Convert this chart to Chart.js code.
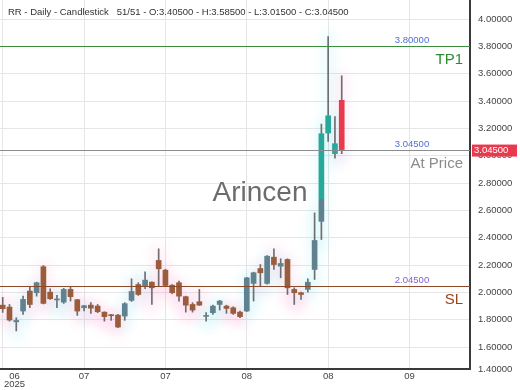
<!DOCTYPE html>
<html><head><meta charset="utf-8">
<script src="https://cdn.jsdelivr.net/npm/chart.js@4.4.1/dist/chart.umd.min.js"></script>
<style>html,body{margin:0;padding:0;background:#fff;}#wrap{width:520px;height:390px;position:relative;}</style>
</head><body><div id="wrap"><canvas id="c" width="520" height="390"></canvas></div>
<script>
// ---------- data ----------
const symbol = 'RR';
const opens = [1.907,1.893,1.785,1.864,2.010,1.998,2.188,2.002,1.945,1.929,
  2.022,1.947,1.888,1.907,1.900,1.856,1.835,1.834,1.827,1.942,
  2.058,2.042,2.075,2.234,2.163,2.053,2.071,1.969,1.912,1.932,
  1.825,1.852,1.912,1.900,1.888,1.856,1.864,2.066,2.175,2.066,
  2.258,2.192,2.241,2.022,1.998,2.022,2.168,2.520,3.166,3.015,3.405];
const highs = [1.964,1.912,1.815,1.973,2.039,2.075,2.197,2.027,1.978,2.030,
  2.039,1.949,1.905,1.925,1.912,1.858,1.839,1.839,1.925,2.100,
  2.071,2.151,2.077,2.319,2.170,2.058,2.083,1.973,1.925,2.022,
  1.852,1.907,1.942,1.907,1.895,1.864,2.110,2.148,2.204,2.270,
  2.319,2.246,2.246,2.034,2.002,2.100,2.582,3.231,3.871,3.287,3.585];
const lows = [1.854,1.790,1.718,1.839,1.888,1.973,1.916,1.949,1.888,1.920,
  1.937,1.832,1.864,1.847,1.852,1.790,1.796,1.742,1.796,1.934,
  1.978,2.027,1.912,2.046,2.045,1.990,1.937,1.856,1.856,1.905,
  1.790,1.839,1.871,1.847,1.839,1.815,1.860,1.937,2.042,2.060,
  2.168,2.107,1.985,1.912,1.949,2.002,2.095,2.387,3.104,2.983,3.015];
const closes = [1.881,1.798,1.795,1.949,1.912,2.071,1.920,1.954,1.952,2.022,
  1.969,1.864,1.903,1.885,1.859,1.823,1.830,1.747,1.918,2.007,
  1.985,2.090,2.034,2.173,2.051,1.998,1.973,1.907,1.871,1.907,
  1.830,1.900,1.937,1.883,1.847,1.823,2.107,2.144,2.144,2.265,
  2.204,2.212,2.034,1.998,1.985,2.075,2.380,3.161,3.292,3.088,3.045];
const xTickIndex = [0,12,24,36,48,60];
const xTickLabels = ['06\n2025','07','07','08','08','09'];
const yTickValues = [1.4,1.6,1.8,2.0,2.2,2.4,2.6,2.8,3.0,3.2,3.4,3.6,3.8,4.0];
const levelValues = [3.8, 3.045, 2.045];
const levelNames = ['TP1','At Price','SL'];

// ---------- styles ----------
const Y_MIN = 1.44, Y_MAX = 4.139, X_MIN = -0.4, X_MAX = 68.92;
const SPLIT = 2.68;
const levelLine = ['#3d8b3d','#8c8c8c','#8b4a2a'];
const levelText = ['#2e8b2e','#8c8c8c','#a0401c'];
const levelValText = ['#4f6fd0','#4f6fd0','#7f62c8'];
const FONT = '"Liberation Sans", Arial, sans-serif';

const n = opens.length;
const idx = opens.map((_, i) => i);
const isUp = i => closes[i] >= opens[i];

function splitGradient(ctx, top, bottom) {
  const chart = ctx.chart;
  const area = chart.chartArea;
  if (!area) return top;
  const ys = chart.scales.y.getPixelForValue(SPLIT);
  const g = chart.ctx.createLinearGradient(0, area.top, 0, area.bottom);
  const t = Math.min(Math.max((ys - area.top) / (area.bottom - area.top), 0), 1);
  g.addColorStop(0, top); g.addColorStop(t, top);
  g.addColorStop(t, bottom); g.addColorStop(1, bottom);
  return g;
}

const haloPlugin = {
  id: 'halo',
  beforeDatasetsDraw(chart) {
    const {ctx, scales: {x, y}, chartArea: a} = chart;
    ctx.save();
    ctx.beginPath(); ctx.rect(a.left, a.top, a.right - a.left, a.bottom - a.top); ctx.clip();
    ctx.filter = 'blur(5px)';
    idx.forEach(i => {
      const px = x.getPixelForValue(i);
      const yt = y.getPixelForValue(highs[i]) - 4, yb = y.getPixelForValue(lows[i]) + 10;
      ctx.fillStyle = isUp(i) ? 'rgba(110,230,240,0.11)' : 'rgba(255,130,200,0.10)';
      ctx.fillRect(px - 8, yt, 16, yb - yt);
    });
    ctx.filter = 'none';
    // watermark
    ctx.fillStyle = 'rgba(95,95,95,0.92)';
    ctx.font = '28px ' + FONT;
    ctx.textAlign = 'center'; ctx.textBaseline = 'middle';
    ctx.fillText('Arincen', 260, 193);
    ctx.restore();
  }
};

const overlayPlugin = {
  id: 'overlay',
  afterDatasetsDraw(chart) {
    const {ctx, scales: {x, y}, chartArea: a} = chart;
    ctx.save();
    levelValues.forEach((v, k) => {
      const py = Math.round(y.getPixelForValue(v)) + 0.5;
      ctx.strokeStyle = levelLine[k]; ctx.lineWidth = 1;
      ctx.beginPath(); ctx.moveTo(a.left, py); ctx.lineTo(a.right, py); ctx.stroke();
      ctx.textBaseline = 'middle';
      ctx.font = '9.5px ' + FONT; ctx.fillStyle = levelValText[k]; ctx.textAlign = 'center';
      ctx.fillText(v.toFixed(5), 412, py - 6);
      ctx.font = '15px ' + FONT; ctx.fillStyle = levelText[k]; ctx.textAlign = 'right';
      ctx.fillText(levelNames[k], 463, py + 13);
    });
    const L = n - 1;
    ctx.font = '9.5px ' + FONT; ctx.fillStyle = '#333'; ctx.textAlign = 'left'; ctx.textBaseline = 'middle';
    ctx.fillText(`${symbol} - Daily - Candlestick   ${n}/${n} - O:${opens[L].toFixed(5)} - H:${highs[L].toFixed(5)} - L:${lows[L].toFixed(5)} - C:${closes[L].toFixed(5)}`, 8, 12);
    ctx.fillStyle = '#444'; ctx.textAlign = 'center';
    xTickIndex.forEach((v, k) => {
      const lines = xTickLabels[k].split('\n');
      const w = Math.max(...lines.map(s => ctx.measureText(s).width));
      const px = Math.max(x.getPixelForValue(v), a.left + w / 2 + 4);
      lines.forEach((s, j) => ctx.fillText(s, px, a.bottom + 7 + j * 8.5));
    });
    const lp = closes[L];
    const py = y.getPixelForValue(lp) + 1;
    ctx.fillStyle = '#e8394d';
    ctx.fillRect(a.right + 2, py - 6, 45, 12);
    ctx.fillStyle = '#fff'; ctx.textAlign = 'left';
    ctx.fillText(lp.toFixed(5), a.right + 4, py);
    ctx.restore();
  }
};

new Chart(document.getElementById('c'), {
  type: 'bar',
  data: {
    datasets: [
      {
        label: 'wick',
        data: idx.map(i => ({x: i, y: [lows[i], highs[i]]})),
        backgroundColor: '#6e6e6e',
        barThickness: 1,
        grouped: false,
        order: 2
      },
      {
        label: 'body',
        data: idx.map(i => ({x: i, y: [opens[i], closes[i]]})),
        backgroundColor: c => isUp(c.dataIndex)
          ? splitGradient(c, '#28a89b', '#60828f')
          : splitGradient(c, '#e8394d', '#9a5c3a'),
        barThickness: 5,
        minBarLength: 1,
        grouped: false,
        order: 1
      }
    ]
  },
  options: {
    responsive: false,
    devicePixelRatio: 1,
    animation: false,
    layout: {padding: 0},
    plugins: {legend: {display: false}, tooltip: {enabled: false}},
    scales: {
      x: {
        type: 'linear', min: X_MIN, max: X_MAX, offset: false,
        afterBuildTicks: s => { s.ticks = xTickIndex.map(v => ({value: v})); },
        afterFit: s => { s.height = 21; s.paddingLeft = 0; s.paddingRight = 0; },
        ticks: {display: false},
        grid: {color: '#e6e6e6', drawTicks: false, offset: false},
        border: {display: true, color: '#3a3a3a', width: 2}
      },
      y: {
        type: 'linear', position: 'right', min: Y_MIN, max: Y_MAX,
        afterBuildTicks: s => { s.ticks = yTickValues.map(v => ({value: Math.max(v, Y_MIN)})); },
        afterFit: s => { s.width = 50; s.paddingTop = 0; s.paddingBottom = 0; },
        ticks: {
          autoSkip: false, padding: 8, color: '#444',
          font: {family: FONT, size: 9.5},
          callback: (v, i) => yTickValues[i].toFixed(5)
        },
        grid: {color: '#e6e6e6', drawTicks: false},
        border: {display: true, color: '#3a3a3a', width: 2}
      }
    }
  },
  plugins: [haloPlugin, overlayPlugin]
});
</script></body></html>
